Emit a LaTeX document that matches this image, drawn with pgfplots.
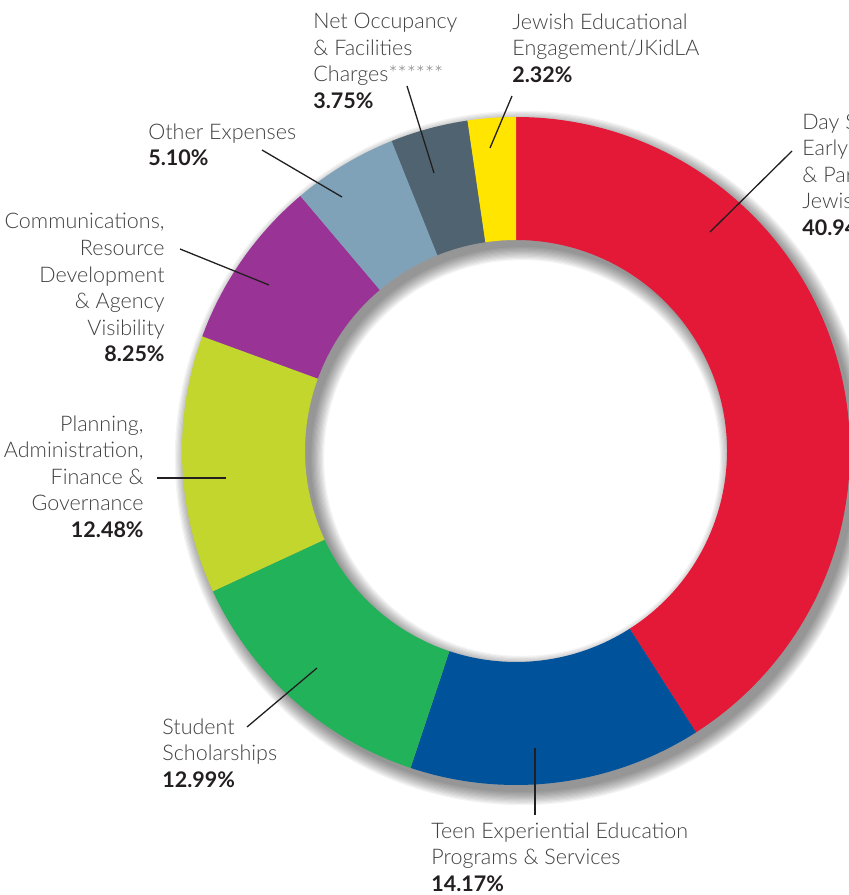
\documentclass[border=0pt]{standalone}
\usepackage{pgfplots}
\usepackage{pgfplotstable}
\pgfplotsset{compat=1.18}
\usepackage{fontspec}
\setmainfont{Lato Light}[BoldFont=Lato Bold]
\definecolor{cRed}{HTML}{E31937}
\definecolor{cBlue}{HTML}{00529B}
\definecolor{cGreen}{HTML}{22B25A}
\definecolor{cLime}{HTML}{C2D62E}
\definecolor{cPurple}{HTML}{993395}
\definecolor{cSteel}{HTML}{7FA2B9}
\definecolor{cSlate}{HTML}{4F6470}
\definecolor{cYellow}{HTML}{FFE500}
\definecolor{txt}{HTML}{404040}
\definecolor{num}{HTML}{231F20}

\pgfplotstableread{
pct col
40.94 cRed
14.17 cBlue
12.99 cGreen
12.48 cLime
8.25 cPurple
5.10 cSteel
3.75 cSlate
2.32 cYellow
}\donut

\begin{document}
\begin{tikzpicture}[lbl/.style={inner sep=0pt, text=txt, font=\fontsize{10.75}{13.3}\selectfont}]
\begin{axis}[
  hide axis, clip=false,
  x=0.5pt, y=0.5pt,
  xmin=-516, xmax=332, ymin=-444, ymax=451,
]
\coordinate (bl) at (axis cs:-516,-444);
\coordinate (tr) at (axis cs:332,451);
\pgfplotsextra{
  \def\Ro{167pt}\def\Ri{105.5pt}
  % soft shadow
  \foreach \k in {0,...,11}{
    \fill[black, opacity=0.042, even odd rule]
      ([shift={(3pt,-3.5pt)}]axis cs:0,0) circle[radius=167pt+\k*0.6pt]
      ([shift={(3pt,-3.5pt)}]axis cs:0,0) circle[radius=105.5pt-\k*0.6pt];
  }
  \pgfplotstablegetrowsof{\donut}\pgfmathtruncatemacro\last{\pgfplotsretval-1}
  \xdef\cum{90}
  \foreach \i in {0,...,\last}{
    \pgfplotstablegetelem{\i}{pct}\of\donut \let\p\pgfplotsretval
    \pgfplotstablegetelem{\i}{col}\of\donut \let\c\pgfplotsretval
    \pgfmathsetmacro\a{\cum}
    \pgfmathsetmacro\b{\cum-3.6*\p}
    \fill[\c] ([shift={(\a:\Ro)}]axis cs:0,0) arc[start angle=\a, end angle=\b, radius=\Ro]
      -- ([shift={(\b:\Ri)}]axis cs:0,0) arc[start angle=\b, end angle=\a, radius=\Ri] -- cycle;
    \xdef\cum{\b}
  }
}
% leader lines
\addplot[num, line width=0.65pt] coordinates {(194,219) (276,300)};
\addplot[num, line width=0.65pt] coordinates {(19,-297) (19,-364)};
\addplot[num, line width=0.65pt] coordinates {(-199,-217) (-269,-276)};
\addplot[num, line width=0.65pt] coordinates {(-359,-27) (-290,-27)};
\addplot[num, line width=0.65pt] coordinates {(-336,202) (-247,166)};
\addplot[num, line width=0.65pt] coordinates {(-254,301) (-174,254)};
\addplot[num, line width=0.65pt] coordinates {(-109,365) (-82,278)};
\addplot[num, line width=0.65pt] coordinates {(-4,355) (-26,303)};
% labels
\node[lbl, anchor=north west, align=left] at (axis cs:-203,438)
  {Net Occupancy\\\& Facilities\\Charges{\color{gray}******}\\\textcolor{num}{\textbf{3.75\%}}};
\node[lbl, anchor=north west, align=left] at (axis cs:-4,438)
  {Jewish Educational\\Engagement/JKidLA\\\textcolor{num}{\textbf{2.32\%}}};
\node[lbl, anchor=north west, align=left] at (axis cs:286,338)
  {Day Schools,\\Early Childhood\\\& Parenting,\\Jewish Life\\\textcolor{num}{\textbf{40.94\%}}};
\node[lbl, anchor=north west, align=left] at (axis cs:-368,328)
  {Other Expenses\\\textcolor{num}{\textbf{5.10\%}}};
\node[lbl, anchor=north east, align=right] at (axis cs:-351,238)
  {Communications,\\Resource\\Development\\\& Agency\\Visibility\\\textcolor{num}{\textbf{8.25\%}}};
\node[lbl, anchor=north east, align=right] at (axis cs:-372,36)
  {Planning,\\Administration,\\Finance \&\\Governance\\\textcolor{num}{\textbf{12.48\%}}};
\node[lbl, anchor=north west, align=left] at (axis cs:-354,-267)
  {Student\\Scholarships\\\textcolor{num}{\textbf{12.99\%}}};
\node[lbl, anchor=north west, align=left] at (axis cs:-85,-371)
  {Teen Experiential Education\\Programs \& Services\\\textcolor{num}{\textbf{14.17\%}}};
\end{axis}
\pgfresetboundingbox
\useasboundingbox (bl) rectangle (tr);
\end{tikzpicture}
\end{document}
